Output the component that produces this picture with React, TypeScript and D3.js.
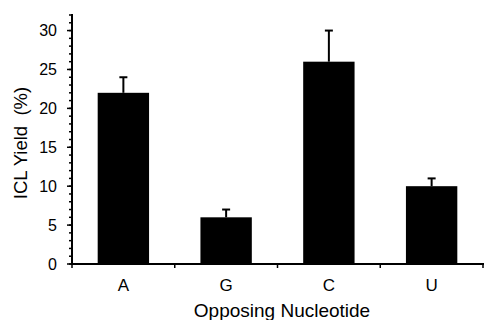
import React from "react";
import * as d3 from "d3";

const categories = ["A", "G", "C", "U"];
const values = [22, 6, 26, 10];
const errors = [2, 1, 4, 1];
const majorTicks = [0, 5, 10, 15, 20, 25, 30];
const minorTicks = d3.range(0, 33, 1);

const W = 484;
const H = 320;
const X0 = 72;
const X1 = 483;
const Y0 = 264;
const YTOP = 15;
const FONT = "'Liberation Sans', Arial, Helvetica, sans-serif";

export default function App() {
  const x = d3.scaleBand<string>().domain(categories).range([X0, X1]).paddingInner(0.5).paddingOuter(0.25);
  const y = d3.scaleLinear().domain([0, 32]).range([Y0, YTOP]);
  const step = x.step();
  const boundaries = d3.range(0, categories.length + 1).map((i) => X0 + i * (X1 - X0) / categories.length);

  return (
    <svg width={W} height={H} style={{ position: "absolute", left: 0, top: 0, background: "#fff" }}>
      {/* bars */}
      {categories.map((c, i) => (
        <rect key={c} x={x(c)} y={y(values[i])} width={x.bandwidth()} height={Y0 - y(values[i])} fill="#000" />
      ))}
      {/* error bars */}
      {categories.map((c, i) => {
        const cx = (x(c) as number) + x.bandwidth() / 2;
        return (
          <g key={"e" + c} stroke="#000" strokeWidth={2}>
            <line x1={cx} x2={cx} y1={y(values[i])} y2={y(values[i] + errors[i])} />
            <line x1={cx - 4} x2={cx + 4} y1={y(values[i] + errors[i])} y2={y(values[i] + errors[i])} />
          </g>
        );
      })}
      {/* y axis */}
      <line x1={X0} x2={X0} y1={14} y2={Y0 + 1} stroke="#000" strokeWidth={2} />
      {minorTicks.map((t) => (
        <line key={"m" + t} x1={X0 - 3} x2={X0} y1={y(t)} y2={y(t)} stroke="#000" strokeWidth={1.5} />
      ))}
      {majorTicks.map((t) => (
        <g key={"t" + t}>
          <line x1={X0 - 5} x2={X0} y1={y(t)} y2={y(t)} stroke="#000" strokeWidth={1.5} />
          <text x={57} y={y(t)} dy="0.36em" textAnchor="end" fontFamily={FONT} fontSize={16} fill="#000">
            {t}
          </text>
        </g>
      ))}
      {/* x axis */}
      <line x1={X0 - 1} x2={X1 + 1} y1={Y0} y2={Y0} stroke="#000" strokeWidth={2} />
      {boundaries.map((b, i) => (
        <line key={"b" + i} x1={Math.min(b, X1)} x2={Math.min(b, X1)} y1={Y0} y2={Y0 + 4} stroke="#000" strokeWidth={1.5} />
      ))}
      {categories.map((c) => (
        <text key={"l" + c} x={(x(c) as number) + x.bandwidth() / 2} y={290.5} textAnchor="middle" fontFamily={FONT} fontSize={17} fill="#000">
          {c}
        </text>
      ))}
      <text x={282} y={317} textAnchor="middle" fontFamily={FONT} fontSize={19} fill="#000">
        Opposing Nucleotide
      </text>
      <text transform={`translate(26.5,143) rotate(-90)`} textAnchor="middle" fontFamily={FONT} fontSize={18.5} fill="#000" style={{ whiteSpace: "pre" }}>
        {"ICL Yield  (%)"}
      </text>
    </svg>
  );
}
